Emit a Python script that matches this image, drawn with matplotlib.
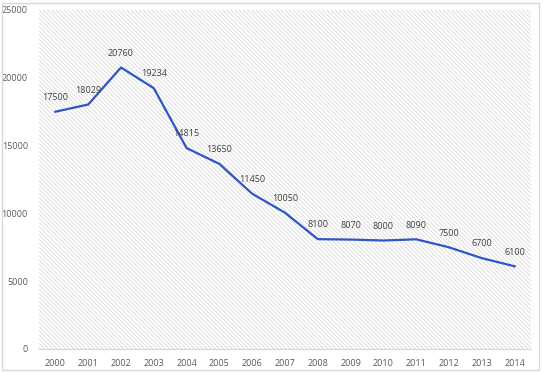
import matplotlib
matplotlib.use("Agg")
import matplotlib.pyplot as plt
from matplotlib.patches import Rectangle

years = [str(y) for y in range(2000, 2015)]
values = [17500, 18029, 20760, 19234, 14815, 13650, 11450, 10050, 8100, 8070, 8000, 8090, 7500, 6700, 6100]
yticks = [0, 5000, 10000, 15000, 20000, 25000]

plt.rcParams['font.family'] = ['Open Sans', 'DejaVu Sans']
plt.rcParams['hatch.linewidth'] = 0.5
plt.rcParams['hatch.color'] = '#d2d2d2'

fig = plt.figure(figsize=(5.43, 3.73), dpi=100)
ax = fig.add_axes([39/543, 1-349/373, (531-39)/543, (349-10)/373])

fig.patches.append(Rectangle((2/543, 3/373), 537/543, 367/373, transform=fig.transFigure,
                             fill=False, edgecolor='#d9d9d9', linewidth=1))

ax.set_facecolor('white')
bg = Rectangle((0, 0), 1, 1, transform=ax.transAxes, facecolor='white',
               edgecolor='#d2d2d2', hatch='\\' * 8, linewidth=0, zorder=0)
ax.add_patch(bg)

x = list(range(len(years)))
ax.plot(x, values, color='#2e56c4', linewidth=1.6, zorder=3)
for xi, v in zip(x, values):
    ax.annotate(str(v), (xi, v), xytext=(0, 7), textcoords='offset points',
                ha='center', va='bottom', fontsize=6.5, color='#404040', zorder=4)

ax.set_xlim(-0.5, len(years) - 0.5)
ax.set_ylim(0, 25000)
ax.set_xticks(x)
ax.set_xticklabels(years)
ax.set_yticks(yticks)
ax.tick_params(axis='both', length=0, labelsize=6.5, labelcolor='#595959')
ax.tick_params(axis='x', pad=7)
ax.tick_params(axis='y', pad=8)
for s in ['top', 'right', 'left']:
    ax.spines[s].set_visible(False)
ax.spines['bottom'].set_color('#d9d9d9')

fig.savefig('out.png', dpi=100)
